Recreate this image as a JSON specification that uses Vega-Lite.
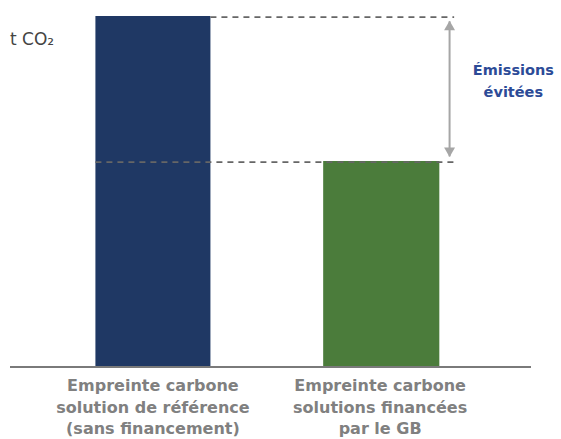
{
  "$schema": "https://vega.github.io/schema/vega-lite/v6.json",
  "width": 521,
  "height": 439,
  "autosize": "none",
  "padding": {"left": 10, "top": 0, "right": 30, "bottom": 0},
  "config": {"view": {"stroke": null}},
  "datasets": {
    "bars": [
      {"cat": "ref", "x0": 1, "x1": 2.01, "value": 100, "label": "Empreinte carbone\nsolution de référence\n(sans financement)", "xc": 1.505},
      {"cat": "gb", "x0": 3, "x1": 4.02, "value": 58.7, "label": "Empreinte carbone\nsolutions financées\npar le GB", "xc": 3.5}
    ],
    "dashes": [
      {"x0": 2.01, "x1": 4.15, "y": 99.7},
      {"x0": 1, "x1": 4.15, "y": 58.4}
    ],
    "arrow": [{"x": 4.11, "y0": 98.5, "y1": 60}],
    "heads": [
      {"x": 4.11, "y": 97.3, "dir": "up"},
      {"x": 4.11, "y": 61.2, "dir": "down"}
    ],
    "notes": [
      {"x": 4.67, "y": 84.3, "text": "Émissions\névitées"}
    ],
    "unit": [{"x": 0.25, "y": 93.2, "text": "t CO₂"}]
  },
  "layer": [
    {
      "data": {"name": "bars"},
      "mark": {"type": "bar"},
      "encoding": {
        "x": {"field": "x0", "type": "quantitative", "scale": {"domain": [0.25, 4.825], "nice": false, "zero": false}, "axis": null},
        "x2": {"field": "x1"},
        "y": {"field": "value", "type": "quantitative", "scale": {"domain": [-20.5, 104.56], "nice": false, "zero": false}, "axis": null},
        "y2": {"datum": 0},
        "color": {"field": "cat", "type": "nominal", "scale": {"domain": ["ref", "gb"], "range": ["#1f3864", "#4b7c3b"]}, "legend": null}
      }
    },
    {
      "data": {"values": [{"y": 0}]},
      "mark": {"type": "rule", "color": "#7a7a7a", "strokeWidth": 2},
      "encoding": {"y": {"field": "y", "type": "quantitative"}}
    },
    {
      "data": {"name": "dashes"},
      "mark": {"type": "rule", "color": "#666666", "strokeWidth": 1.8, "strokeDash": [6, 5]},
      "encoding": {
        "x": {"field": "x0", "type": "quantitative"},
        "x2": {"field": "x1"},
        "y": {"field": "y", "type": "quantitative"}
      }
    },
    {
      "data": {"name": "arrow"},
      "mark": {"type": "rule", "color": "#a6a6a6", "strokeWidth": 2},
      "encoding": {
        "x": {"field": "x", "type": "quantitative"},
        "y": {"field": "y0", "type": "quantitative"},
        "y2": {"field": "y1"}
      }
    },
    {
      "data": {"name": "heads"},
      "mark": {"type": "point", "filled": true, "size": 120, "opacity": 1, "color": "#a6a6a6"},
      "encoding": {
        "x": {"field": "x", "type": "quantitative"},
        "y": {"field": "y", "type": "quantitative"},
        "shape": {"field": "dir", "type": "nominal", "scale": {"domain": ["up", "down"], "range": ["triangle-up", "triangle-down"]}, "legend": null}
      }
    },
    {
      "data": {"name": "notes"},
      "mark": {"type": "text", "font": "DejaVu Sans", "fontWeight": "bold", "fontSize": 14.5, "color": "#2c4b97", "lineBreak": "\n", "lineHeight": 22, "align": "center", "baseline": "middle"},
      "encoding": {
        "x": {"field": "x", "type": "quantitative"},
        "y": {"field": "y", "type": "quantitative"},
        "text": {"field": "text"}
      }
    },
    {
      "data": {"name": "unit"},
      "mark": {"type": "text", "font": "DejaVu Sans", "fontSize": 17, "color": "#444444", "align": "left", "baseline": "middle"},
      "encoding": {
        "x": {"field": "x", "type": "quantitative"},
        "y": {"field": "y", "type": "quantitative"},
        "text": {"field": "text"}
      }
    },
    {
      "data": {"name": "bars"},
      "mark": {"type": "text", "font": "DejaVu Sans", "fontWeight": "bold", "fontSize": 16, "color": "#808080", "lineBreak": "\n", "lineHeight": 21.5, "align": "center", "baseline": "top", "dy": 11},
      "encoding": {
        "x": {"field": "xc", "type": "quantitative"},
        "y": {"datum": 0},
        "text": {"field": "label"}
      }
    }
  ]
}
